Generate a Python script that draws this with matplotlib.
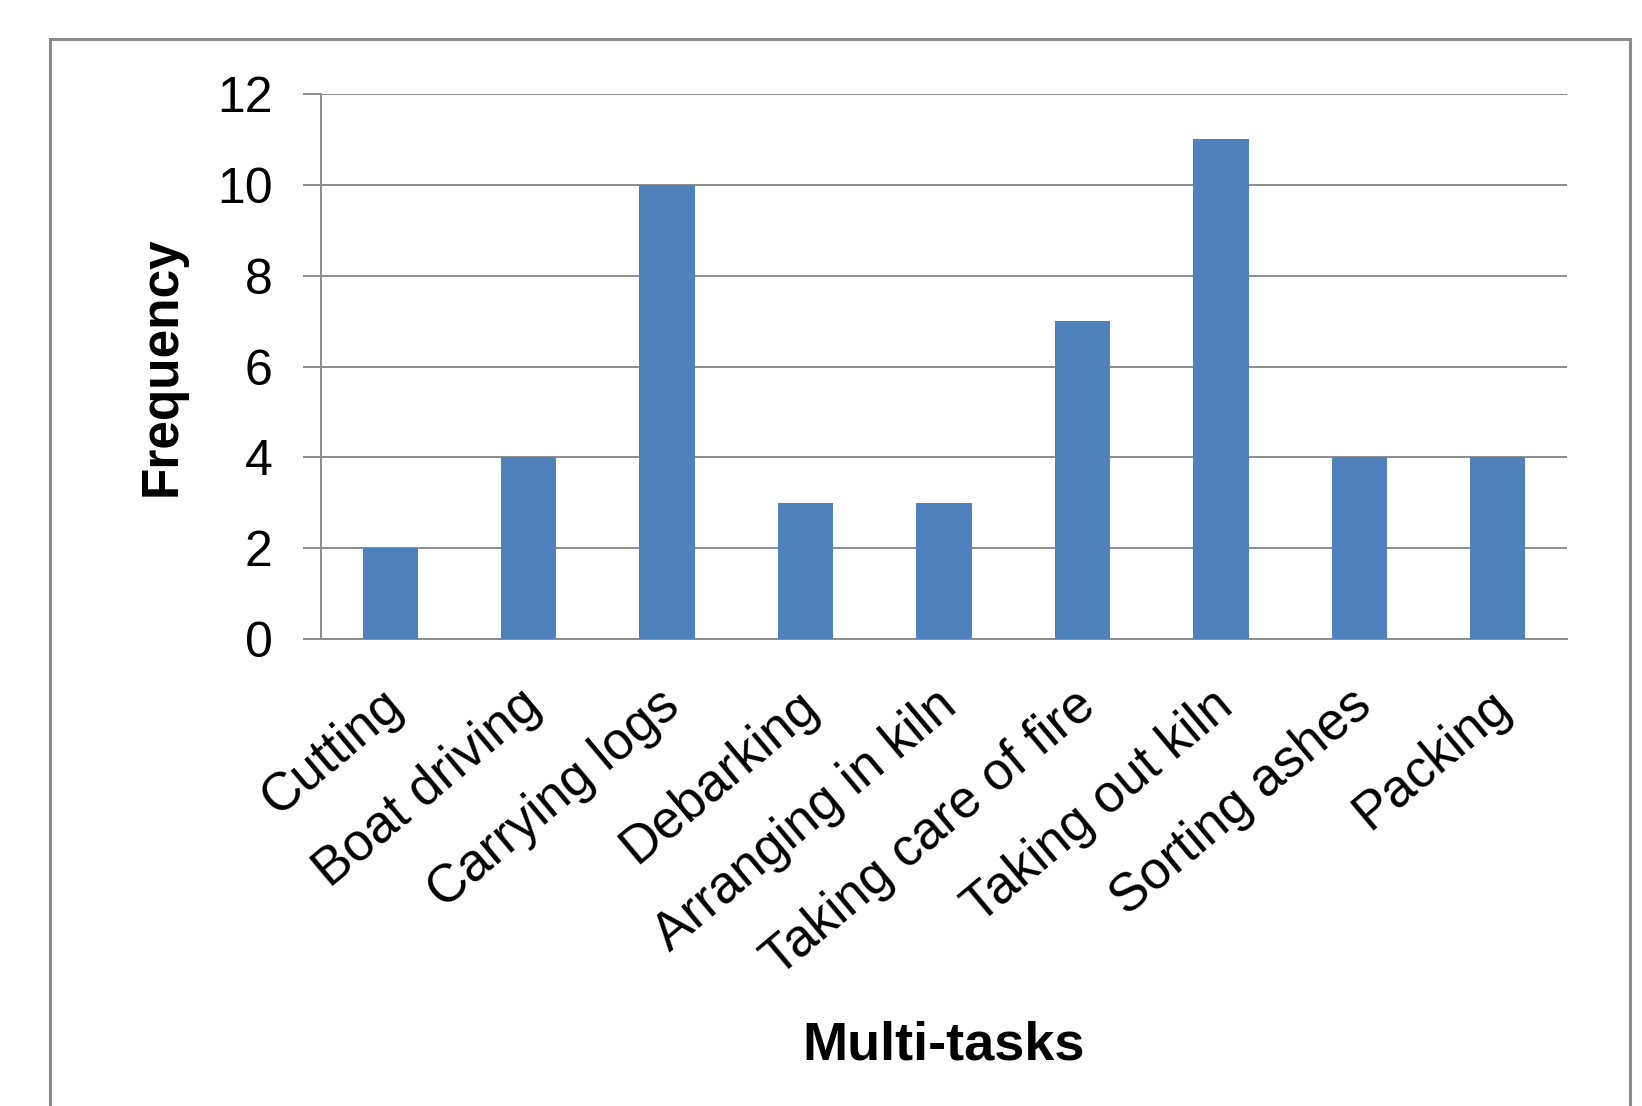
import matplotlib
matplotlib.use("Agg")
import matplotlib.pyplot as plt
from matplotlib.patches import Rectangle
import matplotlib.transforms as mtransforms

plt.rcParams['font.family'] = ['Liberation Sans', 'DejaVu Sans']

tasks = ["Cutting", "Boat driving", "Carrying logs", "Debarking", "Arranging in kiln",
         "Taking care of fire", "Taking out kiln", "Sorting ashes", "Packing"]
frequency = [2, 4, 10, 3, 3, 7, 11, 4, 4]
y_ticks = [0, 2, 4, 6, 8, 10, 12]

bar_color = "#4F81BD"
line_gray = "#8C8C8C"

fig = plt.figure(figsize=(16.42, 11.06), dpi=100)

# outer chart frame (Excel chart area border)
fig.patches.append(Rectangle((50 / 1642, -0.05), (1630 - 50) / 1642, 1.05 - 39 / 1106,
                             transform=fig.transFigure, fill=False,
                             edgecolor=line_gray, linewidth=2.2))

ax = fig.add_axes([0.1955, 0.4222, 0.7588, 0.4928])
x = list(range(len(tasks)))
ax.bar(x, frequency, width=0.40, color=bar_color, zorder=3)

ax.set_xlim(-0.5, len(tasks) - 0.5)
ax.set_ylim(0, 12)
ax.set_yticks(y_ticks)
ax.yaxis.grid(True, color=line_gray, linewidth=1.4, zorder=0)
ax.set_axisbelow(True)

for side in ("top", "right"):
    ax.spines[side].set_visible(False)
for side in ("left", "bottom"):
    ax.spines[side].set_color(line_gray)
    ax.spines[side].set_linewidth(1.4)

ax.tick_params(axis="y", direction="out", length=13, width=1.4, color=line_gray,
               labelsize=36, pad=22)
ax.tick_params(axis="x", length=0, labelsize=38, pad=0)

ax.set_xticks(x)
ax.set_xticklabels(tasks, rotation=40, ha="right", va="center", rotation_mode="anchor")
# move the slanted labels so their ends sit just right of and below each bar
offset = mtransforms.ScaledTranslation(6 / 100, -60 / 100, fig.dpi_scale_trans)
for lbl in ax.get_xticklabels():
    lbl.set_transform(lbl.get_transform() + offset)

ax.set_ylabel("Frequency", fontsize=37, fontweight="bold", labelpad=22)
fig.text(0.5745, 1 - 1046 / 1106, "Multi-tasks", fontsize=39, fontweight="bold",
         ha="center", va="center")

fig.savefig("out.png", dpi=100)
